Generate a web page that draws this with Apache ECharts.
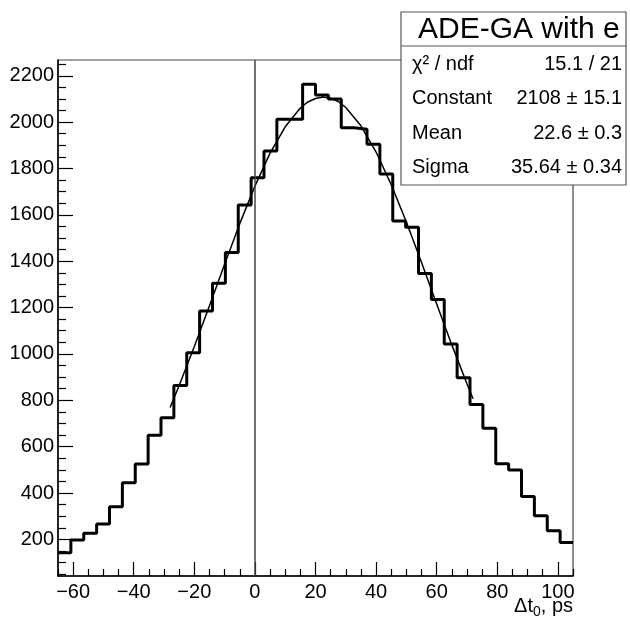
<!DOCTYPE html>
<html>
<head>
<meta charset="utf-8">
<script src="https://cdn.jsdelivr.net/npm/echarts@6/dist/echarts.min.js"></script>
<style>
  html, body { margin: 0; padding: 0; background: #fff; }
  #chart { width: 630px; height: 624px; }
</style>
</head>
<body>
<div id="chart"></div>
<script>
// histogram bin edges (ps) and counts
const binEdges = [-65, -60.75, -56.5, -52.25, -48, -43.75, -39.5, -35.25, -31, -26.75,
  -22.5, -18.25, -14, -9.75, -5.5, -1.25, 3, 7.25, 11.5, 15.75,
  20, 24.25, 28.5, 32.75, 37, 41.25, 45.5, 49.75, 54, 58.25,
  62.5, 66.75, 71, 75.25, 79.5, 83.75, 88, 92.25, 96.5, 100.75, 105]
const counts = [142, 197, 226, 266, 341, 444, 525, 649, 725, 864,
  1005, 1185, 1305, 1438, 1643, 1760, 1875, 2012, 2012, 2163,
  2117, 2100, 1976, 1969, 1905, 1776, 1573, 1546, 1347, 1235,
  1043, 897, 782, 679, 526, 499, 385, 302, 237, 187]

// fit curve
const fitX = [-28, -25, -20, -15, -10, -5, 0, 5, 10, 15, 17.5, 20, 22.5, 25, 27.5, 30, 35, 40, 45, 50, 55, 60, 65, 70, 72]
const fitY = [769, 864, 1032, 1208, 1387, 1562, 1724, 1866, 1980, 2061, 2087, 2102, 2108, 2103, 2089, 2063, 1984, 1871, 1730, 1569, 1394, 1215, 1039, 871, 807]

// ticks
const xMajor = [-60, -40, -20, 0, 20, 40, 60, 80, 100]
const xMinor = [-65, -55, -50, -45, -35, -30, -25, -15, -10, -5, 5, 10, 15, 25, 30, 35, 45, 50, 55, 65, 70, 75, 85, 90, 95, 105]
const yMajor = [200, 400, 600, 800, 1000, 1200, 1400, 1600, 1800, 2000, 2200]
const yMinor = [50, 100, 150, 250, 300, 350, 450, 500, 550, 650, 700, 750, 850, 900, 950,
  1050, 1100, 1150, 1250, 1300, 1350, 1450, 1500, 1550, 1650, 1700, 1750,
  1850, 1900, 1950, 2050, 2100, 2150, 2250]

// stats box
const statNames = ['χ² / ndf', 'Constant', 'Mean', 'Sigma']
const statValues = ['15.1 / 21', '2108 ± 15.1', '22.6 ± 0.3', '35.64 ± 0.34']

const FONT = 'Liberation Sans, Arial, Helvetica, sans-serif'

let histData = binEdges.map((e, i) => [e, i < counts.length ? counts[i] : counts[counts.length - 1]])
let fitData = fitX.map((x, i) => [x, fitY[i]])

let minus = v => String(v).replace('-', '\u2212')

let chart = echarts.init(document.getElementById('chart'))

let statTexts = []
statNames.forEach((n, i) => {
  let y = 64 + i * 34.5
  statTexts.push({
    type: 'text', z: 101,
    style: { text: n, x: 412, y: y, fill: '#000', font: '20px ' + FONT, verticalAlign: 'middle', align: 'left' }
  })
  statTexts.push({
    type: 'text', z: 101,
    style: { text: statValues[i], x: 622, y: y, fill: '#000', font: '20px ' + FONT, verticalAlign: 'middle', align: 'right' }
  })
})

chart.setOption({
  animation: false,
  grid: {
    left: 58, right: 57, top: 60, bottom: 48,
    show: true, borderColor: '#444', borderWidth: 1.2, backgroundColor: 'transparent'
  },
  xAxis: [
    {
      type: 'value', min: -65, max: 105,
      axisLine: { show: true, onZero: false, lineStyle: { color: '#000', width: 1.5 } },
      axisTick: { show: true, inside: true, length: 14, customValues: xMajor, lineStyle: { color: '#000', width: 1.2 } },
      axisLabel: { show: true, customValues: xMajor, margin: 6, fontSize: 20, color: '#000', fontFamily: FONT, formatter: minus },
      splitLine: { show: false }
    },
    {
      type: 'value', min: -65, max: 105, position: 'bottom',
      axisLine: { show: false, onZero: false },
      axisTick: { show: true, inside: true, length: 7, customValues: xMinor, lineStyle: { color: '#000', width: 1.2 } },
      axisLabel: { show: false },
      splitLine: { show: false }
    }
  ],
  yAxis: [
    {
      type: 'value', min: 42, max: 2268,
      axisLine: { show: true, onZero: false, lineStyle: { color: '#000', width: 1.5 } },
      axisTick: { show: true, inside: true, length: 15, customValues: yMajor, lineStyle: { color: '#000', width: 1.2 } },
      axisLabel: { show: true, customValues: yMajor, margin: 4, fontSize: 20, color: '#000', fontFamily: FONT, formatter: v => String(v) },
      splitLine: { show: false }
    },
    {
      type: 'value', min: 42, max: 2268, position: 'left',
      axisLine: { show: false, onZero: false },
      axisTick: { show: true, inside: true, length: 8, customValues: yMinor, lineStyle: { color: '#000', width: 1.2 } },
      axisLabel: { show: false },
      splitLine: { show: false }
    }
  ],
  series: [
    {
      type: 'line', step: 'end', data: histData, symbol: 'none',
      lineStyle: { color: '#000', width: 3 },
      markLine: {
        silent: true, symbol: 'none', label: { show: false },
        lineStyle: { color: '#444', width: 1.5, type: 'solid' },
        data: [{ xAxis: 0 }]
      },
      z: 3
    },
    {
      type: 'line', data: fitData, symbol: 'none',
      lineStyle: { color: '#000', width: 1.5 },
      z: 4
    }
  ],
  graphic: [
    {
      type: 'text', z: 101,
      style: {
        text: '{a|Δt}{s|0}{a|, ps}', x: 573, y: 596, align: 'right', verticalAlign: 'top',
        rich: {
          a: { fontSize: 20, fontFamily: FONT, color: '#000', verticalAlign: 'top', lineHeight: 20 },
          s: { fontSize: 14, fontFamily: FONT, color: '#000', verticalAlign: 'top', lineHeight: 14, padding: [9, 0, 0, 0] }
        }
      }
    },
    {
      type: 'rect', z: 100,
      shape: { x: 401, y: 12, width: 225, height: 173 },
      style: { fill: '#fff', stroke: '#555', lineWidth: 1.2 }
    },
    {
      type: 'line', z: 101,
      shape: { x1: 401, y1: 46, x2: 626, y2: 46 },
      style: { stroke: '#555', lineWidth: 1.2 }
    },
    {
      type: 'text', z: 101,
      style: { text: 'ADE-GA with e', x: 418, y: 30, fill: '#000', font: '30px ' + FONT, verticalAlign: 'middle', align: 'left' }
    }
  ].concat(statTexts)
})
</script>
</body>
</html>
